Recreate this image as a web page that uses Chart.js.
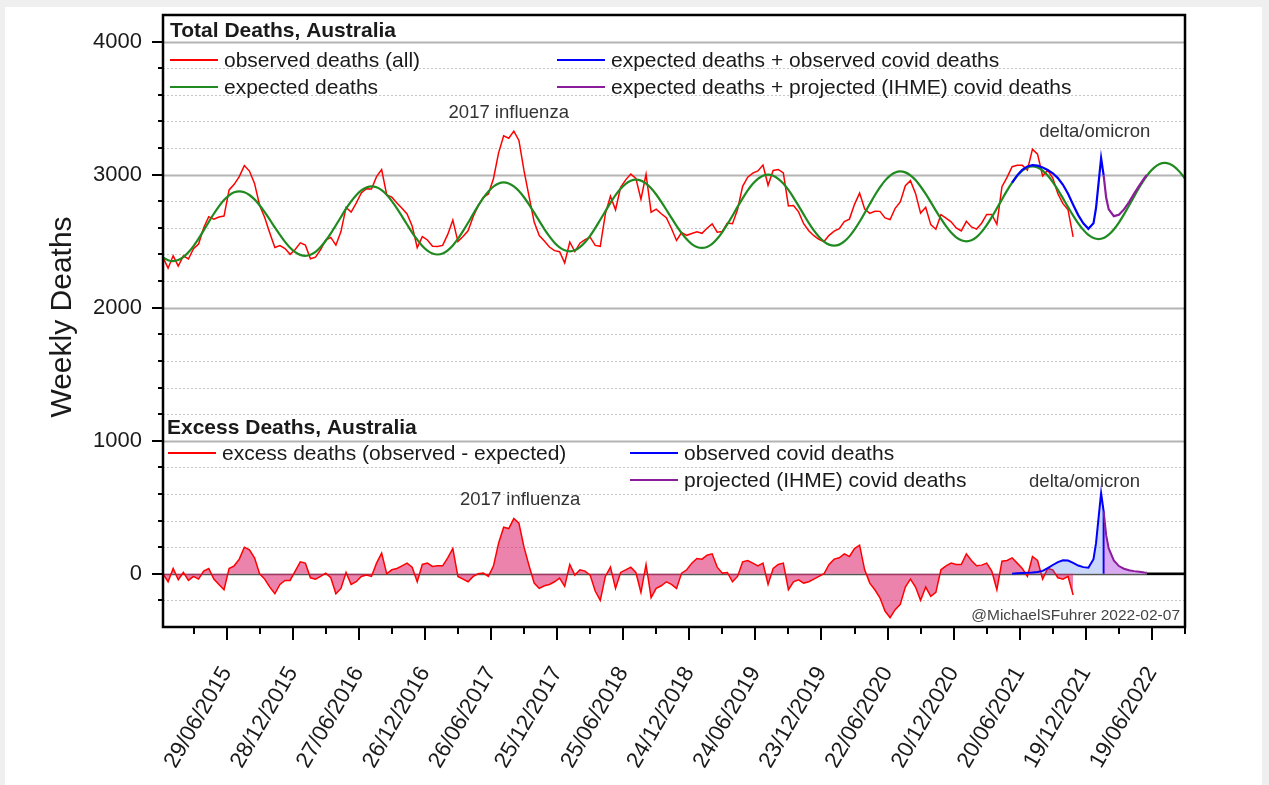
<!DOCTYPE html>
<html>
<head>
<meta charset="utf-8">
<title>Weekly deaths, Australia</title>
<script src="https://cdn.jsdelivr.net/npm/chart.js@4.4.1/dist/chart.umd.min.js"></script>
<style>
  html, body { margin: 0; padding: 0; background: #efefef; }
  canvas { display: block; }
</style>
</head>
<body>
<canvas id="deaths" width="1269" height="785"></canvas>
<script>
// x is counted in weeks from Monday 5 Jan 2015; the weekly series are sampled every 2 weeks
const sampleStep = 2;

// observed deaths (all causes), weeks 0..358
const observedDeaths = [
  2378, 2297, 2390, 2313, 2390, 2366, 2443, 2479, 2601, 2684, 2666, 2682, 2689, 2885, 2927, 2985,
  3068, 3027, 2934, 2770, 2678, 2562, 2453, 2467, 2445, 2401, 2438, 2487, 2470,
  2368, 2380, 2436, 2508, 2528, 2470, 2572, 2754, 2719, 2786, 2862, 2894, 2892,
  2985, 3038, 2848, 2831, 2787, 2747, 2705, 2615, 2451, 2534, 2509, 2462, 2460,
  2468, 2551, 2658, 2497, 2535, 2578, 2684, 2767, 2830, 2854, 2971, 3164, 3292,
  3274, 3327, 3257, 3030, 2835, 2644, 2542, 2501, 2456, 2429, 2421, 2337, 2494,
  2422, 2485, 2512, 2530, 2468, 2461, 2705, 2838, 2736, 2904, 2961, 3004, 2972,
  2815, 3003, 2718, 2741, 2706, 2676, 2595, 2505, 2565, 2544, 2558, 2571, 2559,
  2597, 2630, 2568, 2573, 2637, 2631, 2738, 2912, 2981, 3011, 3028, 3072, 2920,
  3032, 3039, 3013, 2765, 2768, 2720, 2631, 2578, 2541, 2513, 2497, 2544, 2576,
  2594, 2648, 2666, 2777, 2861, 2742, 2709, 2725, 2724, 2675, 2663, 2747, 2795,
  2917, 2955, 2859, 2711, 2755, 2624, 2590, 2699, 2673, 2645, 2599, 2577, 2649,
  2607, 2591, 2635, 2701, 2701, 2627, 2909, 2980, 3060, 3071, 3070, 3034, 3192,
  3154, 2991, 3033, 2974, 2856, 2782, 2736, 2532
];

// expected deaths, weeks 0..402
const expectedDeaths = [
  2378, 2357, 2350, 2358, 2380, 2416, 2463, 2519, 2581, 2644, 2706, 2762, 2809, 2845, 2867, 2875,
  2868, 2847, 2814, 2770, 2718, 2662, 2603, 2547, 2495, 2451, 2418, 2397, 2390,
  2398, 2420, 2456, 2503, 2558, 2620, 2682, 2744, 2799, 2846, 2882, 2904, 2912,
  2905, 2883, 2848, 2801, 2747, 2687, 2625, 2565, 2511, 2464, 2429, 2407, 2400,
  2408, 2431, 2468, 2517, 2575, 2638, 2704, 2767, 2825, 2874, 2911, 2934, 2942,
  2934, 2912, 2877, 2830, 2775, 2714, 2652, 2591, 2536, 2489, 2454, 2432, 2424,
  2432, 2455, 2492, 2540, 2598, 2661, 2725, 2788, 2846, 2894, 2931, 2954, 2962,
  2955, 2933, 2898, 2851, 2796, 2736, 2675, 2615, 2560, 2514, 2478, 2456, 2449,
  2457, 2480, 2518, 2568, 2627, 2691, 2758, 2822, 2881, 2931, 2968, 2992, 3000,
  2992, 2969, 2933, 2885, 2828, 2765, 2701, 2638, 2581, 2533, 2497, 2474, 2466,
  2474, 2498, 2536, 2587, 2646, 2712, 2779, 2845, 2904, 2955, 2993, 3017, 3025,
  3017, 2995, 2959, 2911, 2855, 2794, 2730, 2669, 2613, 2565, 2529, 2507, 2499,
  2507, 2531, 2570, 2621, 2681, 2747, 2814, 2880, 2940, 2991, 3030, 3054, 3062,
  3054, 3031, 2993, 2944, 2886, 2822, 2756, 2692, 2634, 2585, 2547, 2524, 2516,
  2524, 2549, 2588, 2640, 2701, 2768, 2837, 2903, 2964, 3016, 3055, 3080, 3088,
  3080, 3057, 3019, 2970
];

// observed covid deaths and expected + observed covid deaths
const covidObsWeeks = [334, 336, 338, 340, 342, 344, 346, 348, 350, 352, 354, 356, 358, 360, 362, 364, 366, 367, 368, 369, 370];
const covidObsDeaths = [0, 4, 6, 8, 10, 14, 22, 42, 66, 88, 102, 100, 82, 62, 50, 46, 110, 230, 420, 606, 470];
const expPlusCovidObs = [2940, 2995, 3036, 3062, 3072, 3068, 3053, 3035, 3010, 2974, 2924, 2856, 2774, 2696, 2635, 2593, 2634, 2749, 2936, 3124, 2994];

// projected (IHME) covid deaths and expected + projected covid deaths
const covidProjWeeks = [370, 371, 372, 374, 376, 378, 380, 382, 384, 386, 387];
const covidProjDeaths = [470, 290, 190, 100, 58, 38, 26, 20, 15, 10, 8];
const expPlusCovidProj = [2994, 2826, 2739, 2688, 2698, 2739, 2794, 2857, 2918, 2974, 2998];

// no projection left after this
const zeroTailWeeks = [387, 402];
const zeroTail = [0, 0];

const xTickWeeks = [25, 51, 77, 103, 129, 155, 181, 207, 233, 259, 285, 311, 337, 363, 389];
const xTickLabels = ['29/06/2015', '28/12/2015', '27/06/2016', '26/12/2016', '26/06/2017', '25/12/2017', '25/06/2018',
  '24/12/2018', '24/06/2019', '23/12/2019', '22/06/2020', '20/12/2020', '20/06/2021', '19/12/2021', '19/06/2022'];
const xMinorWeeks = [12, 38, 64, 90, 116, 142, 168, 194, 220, 246, 272, 298, 324, 350, 376, 402];
const yTickValues = [0, 1000, 2000, 3000, 4000];

const RED = '#ff0000', GREEN = '#1f8a1f', BLUE = '#0000ff', PURPLE = '#8b1c9c';
const FONT = '"Liberation Sans", Arial, sans-serif';

function toPoints(values, weeks) {
  return values.map((v, i) => ({ x: weeks ? weeks[i] : i * sampleStep, y: v }));
}

// excess = observed - expected, both on the same 2-week grid
const excessDeaths = observedDeaths.map((v, i) => v - expectedDeaths[i]);

// bottom covid line drops back to 0 where the projection takes over
const covidObsBottom = toPoints(covidObsDeaths, covidObsWeeks);
covidObsBottom.push({ x: covidObsWeeks[covidObsWeeks.length - 1], y: 0 });

const line = (color, width) => ({
  borderColor: color, borderWidth: width, pointRadius: 0, fill: false, tension: 0
});

const datasets = [
  { label: 'observed deaths (all)', data: toPoints(observedDeaths), ...line(RED, 1.5), order: 4 },
  { label: 'expected deaths', data: toPoints(expectedDeaths), ...line(GREEN, 2.2), cubicInterpolationMode: 'monotone', order: 3 },
  { label: 'expected deaths + observed covid deaths', data: toPoints(expPlusCovidObs, covidObsWeeks), ...line(BLUE, 2.2), order: 2 },
  { label: 'expected deaths + projected (IHME) covid deaths', data: toPoints(expPlusCovidProj, covidProjWeeks), ...line(PURPLE, 2.2), order: 1 },
  { label: 'excess deaths (observed - expected)', data: toPoints(excessDeaths), ...line(RED, 1.5),
    fill: 'origin', backgroundColor: 'rgba(220, 30, 105, 0.55)', order: 3 },
  { label: 'observed covid deaths', data: covidObsBottom, ...line(BLUE, 2),
    fill: 'origin', backgroundColor: 'rgba(60, 110, 240, 0.28)', order: 2 },
  { label: 'projected (IHME) covid deaths', data: toPoints(covidProjDeaths, covidProjWeeks), ...line(PURPLE, 2),
    fill: 'origin', backgroundColor: 'rgba(160, 40, 220, 0.4)', order: 1 },
  { label: 'zero', data: toPoints(zeroTail, zeroTailWeeks), ...line('#000', 2.5), order: 0 }
];

const decorations = {
  id: 'decorations',
  beforeDraw(chart) {
    const ctx = chart.ctx;
    ctx.save();
    ctx.fillStyle = '#efefef';
    ctx.fillRect(0, 0, chart.width, chart.height);
    ctx.fillStyle = '#ffffff';
    ctx.fillRect(5, 7, chart.width - 12, chart.height - 7);
    ctx.restore();
  },
  beforeDatasetsDraw(chart) {
    const { ctx, chartArea: a, scales: { y } } = chart;
    ctx.save();
    for (let v = -200; v <= 4000; v += 200) {
      const py = Math.round(y.getPixelForValue(v)) + 0.5;
      ctx.beginPath();
      if (v === 0) {
        ctx.setLineDash([]); ctx.strokeStyle = '#555'; ctx.lineWidth = 1.5;
      } else if (v % 1000 === 0) {
        ctx.setLineDash([]); ctx.strokeStyle = '#b4b4b4'; ctx.lineWidth = 2;
      } else {
        ctx.setLineDash([2, 2]); ctx.strokeStyle = '#c6c6c6'; ctx.lineWidth = 1;
      }
      ctx.moveTo(a.left, py);
      ctx.lineTo(a.right, py);
      ctx.stroke();
    }
    ctx.restore();
  },
  afterDraw(chart) {
    const { ctx, chartArea: a, scales: { x, y } } = chart;
    ctx.save();

    // frame and tick marks
    ctx.strokeStyle = '#000';
    ctx.lineWidth = 2.5;
    ctx.strokeRect(a.left, a.top, a.right - a.left, a.bottom - a.top);
    ctx.lineWidth = 2;
    ctx.beginPath();
    for (let v = -200; v <= 4000; v += 200) {
      const py = Math.round(y.getPixelForValue(v));
      ctx.moveTo(a.left - (v % 1000 === 0 ? 11 : 5), py);
      ctx.lineTo(a.left, py);
    }
    xTickWeeks.forEach(w => {
      const px = Math.round(x.getPixelForValue(w));
      ctx.moveTo(px, a.bottom); ctx.lineTo(px, a.bottom + 13);
    });
    xMinorWeeks.forEach(w => {
      const px = Math.round(x.getPixelForValue(w));
      ctx.moveTo(px, a.bottom); ctx.lineTo(px, a.bottom + 7);
    });
    ctx.stroke();

    // axis title
    ctx.fillStyle = '#1a1a1a';
    ctx.save();
    ctx.translate(63, 317);
    ctx.rotate(-Math.PI / 2);
    ctx.font = '30px ' + FONT;
    ctx.textAlign = 'center';
    ctx.textBaseline = 'middle';
    ctx.fillText('Weekly Deaths', 0, 0);
    ctx.restore();

    // panel titles
    ctx.textBaseline = 'middle';
    ctx.textAlign = 'left';
    ctx.font = 'bold 21px ' + FONT;
    ctx.fillText('Total Deaths, Australia', a.left + 7, 31);
    ctx.fillText('Excess Deaths, Australia', a.left + 4, 428);

    // legends
    ctx.font = '21px ' + FONT;
    const item = (lx, ly, color, text) => {
      ctx.strokeStyle = color;
      ctx.lineWidth = 2;
      ctx.beginPath();
      ctx.moveTo(lx, ly); ctx.lineTo(lx + 48, ly);
      ctx.stroke();
      ctx.fillStyle = '#1a1a1a';
      ctx.fillText(text, lx + 54, ly + 1);
    };
    item(170, 60, RED, datasets[0].label);
    item(170, 87, GREEN, datasets[1].label);
    item(557, 60, BLUE, datasets[2].label);
    item(557, 87, PURPLE, datasets[3].label);
    item(168, 453, RED, datasets[4].label);
    item(630, 453, BLUE, datasets[5].label);
    item(630, 480, PURPLE, datasets[6].label);

    // annotations
    ctx.font = '18.5px ' + FONT;
    ctx.fillStyle = '#333';
    ctx.textAlign = 'center';
    ctx.fillText('2017 influenza', x.getPixelForValue(136), y.getPixelForValue(3466));
    ctx.fillText('2017 influenza', x.getPixelForValue(140.5), y.getPixelForValue(556));
    ctx.fillText('delta/omicron', x.getPixelForValue(366.5), y.getPixelForValue(3323));
    ctx.fillText('delta/omicron', x.getPixelForValue(362.5), y.getPixelForValue(692));
    ctx.font = '15.5px ' + FONT;
    ctx.fillStyle = '#444';
    ctx.textAlign = 'right';
    ctx.fillText('@MichaelSFuhrer 2022-02-07', a.right - 5, 616);
    ctx.restore();
  }
};

// keep the plot box where the reference has it: no automatic label padding
function fixPadding(scale) {
  scale.paddingTop = 0;
  scale.paddingBottom = 0;
  scale.paddingLeft = 0;
  scale.paddingRight = 0;
}

new Chart(document.getElementById('deaths'), {
  type: 'line',
  data: { datasets },
  options: {
    responsive: false,
    animation: false,
    devicePixelRatio: 1,
    parsing: false,
    layout: { padding: { top: 15, right: 84, left: 0, bottom: 0 } },
    plugins: { legend: { display: false }, tooltip: { enabled: false } },
    scales: {
      x: {
        type: 'linear',
        min: 0,
        max: 402,
        grid: { display: false, drawTicks: false },
        border: { display: false },
        afterBuildTicks: scale => { scale.ticks = xTickWeeks.map(w => ({ value: w })); },
        afterFit: scale => { scale.height = 158; fixPadding(scale); },
        ticks: {
          autoSkip: false,
          minRotation: 60,
          maxRotation: 60,
          padding: 35,
          color: '#1a1a1a',
          font: { family: FONT, size: 22.5 },
          callback: (value, index) => xTickLabels[index]
        }
      },
      y: {
        type: 'linear',
        min: -400,
        max: 4200,
        grid: { display: false, drawTicks: false },
        border: { display: false },
        afterBuildTicks: scale => { scale.ticks = yTickValues.map(v => ({ value: v })); },
        afterFit: scale => { scale.width = 163; fixPadding(scale); },
        ticks: {
          padding: 21,
          color: '#1a1a1a',
          font: { family: FONT, size: 22 },
          callback: value => String(value)
        }
      }
    }
  },
  plugins: [decorations]
});
</script>
</body>
</html>
